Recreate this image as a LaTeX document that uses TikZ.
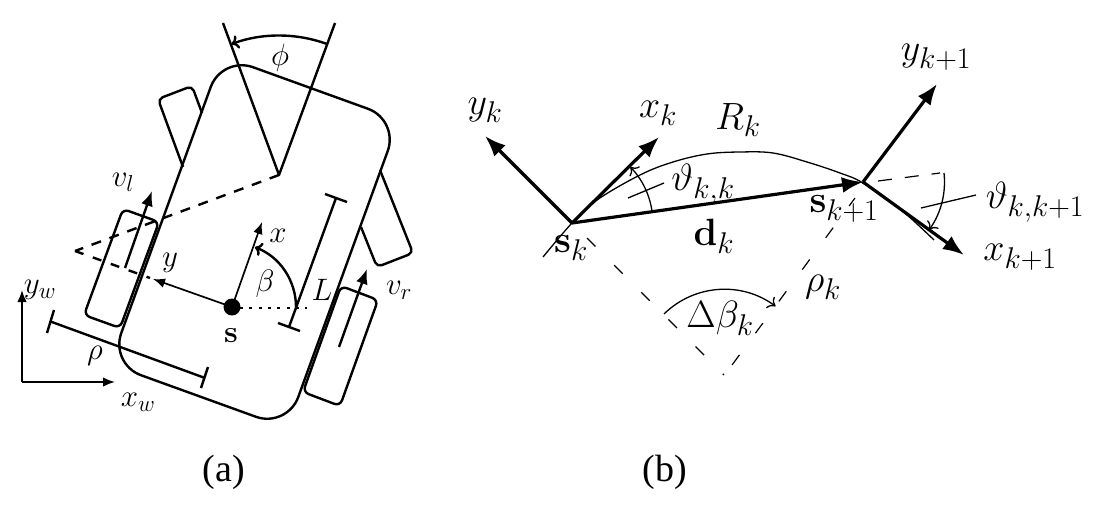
\RequirePackage{fix-cm}
\documentclass[tikz,border=0pt]{standalone}
\usepackage[no-math]{fontspec}
\usetikzlibrary{arrows.meta}
\newfontfamily\capfont{Liberation Serif}
\DeclareMathSizes{31}{31}{23}{16}
\DeclareMathSizes{38}{38}{30}{20}
\tikzset{
  stroke/.style={line width=2.4pt,line join=round},
  thinl/.style={line width=1.3pt},
  solidtip/.style={-{Latex[length=15pt,width=12pt]}},
  smalltip/.style={-{Latex[length=12pt,width=9.5pt]}},
  bigtip/.style={line width=3.2pt,-{Latex[length=21pt,width=16pt]}},
  opentip/.style={-{Computer Modern Rightarrow[length=7pt,width=14pt]}},
  lab/.style={inner sep=0pt,font=\fontsize{31}{36}\selectfont},
  labb/.style={inner sep=0pt,font=\fontsize{38}{44}\selectfont},
  captext/.style={inner sep=0pt,font=\capfont\fontsize{38}{44}\selectfont},
}
\begin{document}
\begin{tikzpicture}[x=1pt,y=1pt,yscale=-1]
\useasboundingbox (0,0) rectangle (1099,508);
% ---- panel (a)
\draw[stroke,rounded corners=33pt] (222,56) -- (399,120) -- (287,428) -- (110,364) -- cycle;
\draw[stroke,rounded corners=6pt] (123,209) -- (159,222) -- (120,328) -- (84,315) -- cycle;
\draw[stroke,rounded corners=6pt] (341,286) -- (378,300) -- (340,406) -- (303,392) -- cycle;
\draw[stroke,rounded corners=5pt] (183,167) -- (158,99) -- (192,86) -- (202,113);
\draw[stroke,rounded corners=5pt] (361,227) -- (377,267) -- (413,253) -- (380,170);
\draw[stroke] (223,23) -- (279,175) -- (335,23);
\draw[stroke,dash pattern=on 10pt off 9pt] (279,175) -- (75,251);
\draw[stroke,dash pattern=on 9pt off 10pt] (75,251) -- (150,278);
\draw[stroke,opentip] (327,44) arc (-70:-110:139.5);
\draw[stroke] (325,194) -- (347,202);
\draw[stroke] (278,323) -- (300,331);
\draw[stroke] (336,198) -- (289,327);
\draw[stroke] (54,310) -- (47,333);
\draw[stroke] (208,367) -- (201,388);
\draw[stroke] (50.5,321.5) -- (205,378);
\draw[line width=2.5pt,dash pattern=on 3pt off 6.3pt] (240,308) -- (307,308);
\draw[line width=1.7pt,smalltip] (232,307) -- (262,222);
\draw[line width=1.7pt,smalltip] (232,307) -- (153,279);
\fill (232,307) circle (8.5);
\draw[stroke,opentip] (296,307) arc (0:-69:64);
\draw[stroke,solidtip] (125,268) -- (152,191);
\draw[stroke,solidtip] (339,347) -- (367,269);
\draw[line width=1.7pt,smalltip] (22,382) -- (22,290);
\draw[line width=1.7pt,smalltip] (22,382) -- (115,382);
\node[lab] (vl) at (123,182) {$v_l$};
\node[lab] (xa) at (278,236) {$x$};
\node[lab] (ya) at (170,263) {$y$};
\node[lab] (be) at (265,284) {$\beta$};
\node[lab] (La) at (322,290) {$L$};
\node[lab] (vr) at (399,290) {$v_r$};
\node[lab] (sa) at (231,336) {$\mathbf{s}$};
\node[lab] (yw) at (40,290) {$y_w$};
\node[lab] (rh) at (95,356) {$\rho$};
\node[lab] (xw) at (138,402) {$x_w$};
\node[lab] (ph) at (280,58) {$\phi$};
\node[captext] (ca) at (224,472) {(a)};
% ---- panel (b)
\draw[thinl] plot[smooth,tension=0.6] coordinates {(543,257) (572,223) (597,200) (640,175) (673,162) (707,154) (740,152) (773,153) (807,162) (840,173) (863,183) (900,209) (934,240)};
\draw[line width=1.2pt,dash pattern=on 12pt off 26.4pt] (587,238) -- (724,375);
\draw[line width=1.2pt,dash pattern=on 12.5pt off 27pt] (732,365) -- (855,198);
\draw[line width=1.2pt,dash pattern=on 14pt off 13pt] (878,181) -- (940,173);
\draw[bigtip] (572,223) -- (485,136);
\draw[bigtip] (572,223) -- (659,137);
\draw[bigtip] (572,223) -- (863,182);
\draw[bigtip] (863,182) -- (937,84);
\draw[bigtip] (863,182) -- (964,255);
\draw[thinl,opentip] (652,211) arc (-8.5:-44:80.8);
\draw[thinl,opentip] (944,173) arc (-6.3:35.6:82);
\draw[thinl,opentip] (664,314) arc (-134.5:-53.4:86);
\draw[thinl] (628,198) -- (664,183);
\draw[thinl] (921,208) -- (976,195);
\node[labb] (yk) at (485,110) {$y_k$};
\node[labb] (xk) at (658,113) {$x_k$};
\node[labb] (Rk) at (738,120) {$R_k$};
\node[labb] (tk) at (703,184) {$\vartheta_{k,k}$};
\node[labb] (sk) at (571,248) {$\mathbf{s}_k$};
\node[labb] (dk) at (714,236) {$\mathbf{d}_k$};
\node[labb] (sn) at (844,209) {$\mathbf{s}_{k+1}$};
\node[labb] (rk) at (823,287) {$\rho_k$};
\node[labb] (db) at (720,318) {$\Delta\beta_k$};
\node[labb] (yn) at (936,57) {$y_{k+1}$};
\node[labb] (xn) at (1020,257) {$x_{k+1}$};
\node[labb] (tn) at (1035,202) {$\vartheta_{k,k+1}$};
\node[captext] (cb) at (665,472) {(b)};
\end{tikzpicture}
\end{document}
